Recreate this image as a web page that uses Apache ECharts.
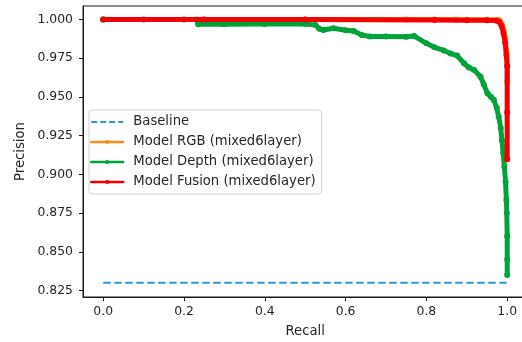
<!DOCTYPE html>
<html>
<head>
<meta charset="utf-8">
<script src="https://cdn.jsdelivr.net/npm/echarts@6/dist/echarts.min.js"></script>
<style>html,body{margin:0;padding:0;background:#fff;}#c{width:522px;height:342px;}</style>
</head>
<body>
<div id="c"></div>
<script>
// ---- data ----
var xTicks = [0.0, 0.2, 0.4, 0.6, 0.8, 1.0];
var yTicks = [0.825, 0.85, 0.875, 0.9, 0.925, 0.95, 0.975, 1.0];

var baselineRecall = [0.0, 1.0];
var baselinePrecision = [0.83, 0.83];

var rgbRecall = [0.0, 0.25, 0.5, 0.75, 0.82, 0.873, 0.95, 0.98, 0.986, 0.991, 0.995, 0.998, 0.9995, 1.0, 1.0];
var rgbPrecision = [1.0, 1.0, 1.0, 1.0, 1.0, 1.0, 0.9998, 0.9996, 0.9975, 0.9935, 0.988, 0.98, 0.975, 0.97, 0.96];

var depthRecall = [0.0, 0.1, 0.2, 0.232, 0.235, 0.3, 0.4, 0.5, 0.525, 0.535, 0.545, 0.57, 0.6, 0.62, 0.64, 0.66, 0.7, 0.75, 0.77, 0.8, 0.82, 0.843, 0.86, 0.876, 0.893, 0.905, 0.918, 0.934, 0.942, 0.951, 0.96, 0.967, 0.974, 0.979, 0.984, 0.987, 0.99, 0.993, 0.996, 0.998, 0.999, 1.0, 1.0, 1.0];
var depthPrecision = [1.0, 1.0, 1.0, 1.0, 0.9969, 0.9969, 0.997, 0.997, 0.9965, 0.994, 0.9932, 0.9943, 0.993, 0.9925, 0.990, 0.989, 0.989, 0.9888, 0.9893, 0.9846, 0.982, 0.980, 0.978, 0.9767, 0.9717, 0.969, 0.9674, 0.963, 0.958, 0.9523, 0.950, 0.948, 0.943, 0.9372, 0.930, 0.922, 0.914, 0.905, 0.895, 0.8834, 0.875, 0.86, 0.845, 0.835];

var fusionRecall = [0.0, 0.25, 0.5, 0.82, 0.9, 0.95, 0.972, 0.98, 0.986, 0.991, 0.995, 0.998, 1.0, 1.0, 1.0];
var fusionPrecision = [1.0, 1.0, 1.0, 0.9996, 0.9995, 0.9995, 0.9993, 0.9985, 0.996, 0.991, 0.985, 0.977, 0.97, 0.94, 0.9097];

var names = ['Baseline', 'Model RGB (mixed6layer)', 'Model Depth (mixed6layer)', 'Model Fusion (mixed6layer)'];
var colors = ['#2b9bd6', '#ff8c1a', '#00a33a', '#f50000'];

function pairs(xs, ys) { return xs.map(function (x, i) { return [x, ys[i]]; }); }

var font = 'DejaVu Sans';
var txt = '#262626';

function modelSeries(idx, xs, ys) {
  return {
    name: names[idx], type: 'line', data: pairs(xs, ys),
    symbol: 'circle', symbolSize: 6, showSymbol: true,
    itemStyle: { color: colors[idx] },
    lineStyle: { color: colors[idx], width: 5, cap: 'round', join: 'round' },
    animation: false, z: 2 + idx
  };
}

var chart = echarts.init(document.getElementById('c'), null, { renderer: 'canvas' });
chart.setOption({
  animation: false,
  backgroundColor: '#fff',
  grid: { left: 83, top: 6, width: 444.4, height: 291, show: true, borderColor: '#1a1a1a', borderWidth: 1, backgroundColor: 'transparent', containLabel: false, outerBoundsMode: 'none' },
  xAxis: {
    type: 'value', min: -0.05, max: 1.05,
    name: 'Recall', nameLocation: 'middle', nameGap: 28,
    nameTextStyle: { fontFamily: font, fontSize: 13.2, color: txt },
    axisLine: { show: true, onZero: false, lineStyle: { color: '#1a1a1a', width: 1 } },
    axisTick: { show: true, inside: false, length: 4, lineStyle: { color: '#1a1a1a' }, customValues: xTicks },
    axisLabel: { customValues: xTicks, margin: 9, fontFamily: font, fontSize: 12.4, color: txt, formatter: function (v) { return v.toFixed(1); } },
    splitLine: { show: false }
  },
  yAxis: {
    type: 'value', min: 0.8208, max: 1.0087,
    name: 'Precision', nameLocation: 'middle', nameGap: 55, nameRotate: 90,
    nameTextStyle: { fontFamily: font, fontSize: 13.2, color: txt },
    axisLine: { show: true, onZero: false, lineStyle: { color: '#1a1a1a', width: 1 } },
    axisTick: { show: true, inside: false, length: 4, lineStyle: { color: '#1a1a1a' }, customValues: yTicks },
    axisLabel: { customValues: yTicks, margin: 10, fontFamily: font, fontSize: 12.4, color: txt, formatter: function (v) { return v.toFixed(3); } },
    splitLine: { show: false }
  },
  legend: {
    orient: 'vertical', left: 89, top: 110,
    padding: [5, 6, 5, 1],
    backgroundColor: 'rgba(255,255,255,0.85)', borderColor: '#d0d0d0', borderWidth: 1, borderRadius: 3,
    itemWidth: 32, itemHeight: 5, itemGap: 6,
    textStyle: { fontFamily: font, fontSize: 13.2, color: txt, padding: [0, 0, 0, 5], lineHeight: 14 },
    data: [
      { name: names[0], itemStyle: { opacity: 0 }, lineStyle: { width: 2, type: [6, 3], color: colors[0], opacity: 1 } },
      { name: names[1], itemStyle: { color: colors[1] }, lineStyle: { width: 2.5, color: colors[1] } },
      { name: names[2], itemStyle: { color: colors[2] }, lineStyle: { width: 2.5, color: colors[2] } },
      { name: names[3], itemStyle: { color: colors[3] }, lineStyle: { width: 2.5, color: colors[3] } }
    ]
  },
  series: [
    {
      name: names[0], type: 'line', data: pairs(baselineRecall, baselinePrecision),
      symbol: 'none', showSymbol: false,
      itemStyle: { color: colors[0] },
      lineStyle: { color: colors[0], width: 2, type: [7.5, 3.5] },
      z: 1
    },
    modelSeries(1, rgbRecall, rgbPrecision),
    modelSeries(2, depthRecall, depthPrecision),
    modelSeries(3, fusionRecall, fusionPrecision)
  ]
});
</script>
</body>
</html>
